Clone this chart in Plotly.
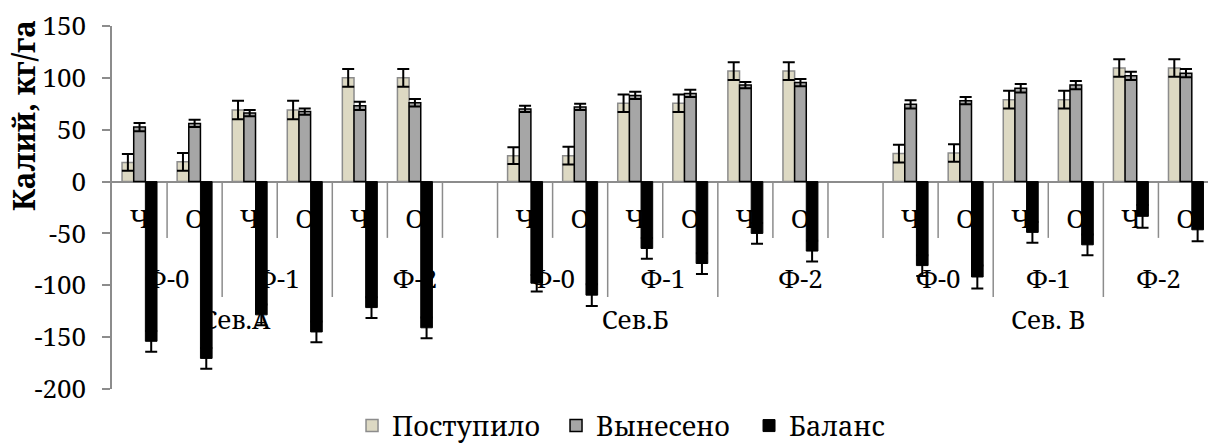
import plotly.graph_objects as go

# Category levels
sites = ["Сев.А", "Сев.Б", "Сев. В"]
fert = ["Ф-0", "Ф-1", "Ф-2"]
variants = ["Ч", "О"]

# Series values (kg/ha) in order: site -> fertiliser -> variant
postupilo = [18.5, 19, 69, 69, 100, 100,
             25, 25, 75.5, 75.5, 106.5, 106.5,
             27, 27.5, 79, 79, 109.5, 109.5]
postupilo_err = [8, 8.5, 9, 9, 8.5, 8.5,
                 8, 8.5, 8.5, 8.5, 8.5, 8.5,
                 8.5, 8.5, 8.5, 8.5, 8.5, 8.5]
vyneseno = [52.5, 56, 66, 67.5, 73, 76,
            70, 72, 83, 85, 93, 95.5,
            74.5, 78, 90, 93, 102, 104.5]
vyneseno_err = [4, 3.5, 3, 3, 4, 3.5,
                3, 3, 3.5, 3.5, 3, 3.5,
                4, 3.5, 4, 4, 4, 4]
balans = [-154, -170.5, -128.5, -145, -121.5, -141,
          -98, -109.5, -64.5, -79, -50, -67,
          -81, -92, -49, -61, -33.5, -46.5]
balans_err = [10, 10, 10, 10, 10, 10,
              8, 10.5, 10, 10, 10, 10,
              10, 11, 10, 10, 11, 11]

# Y axis ticks (hyphen-minus as in the printed labels)
y_ticks = [-200, -150, -100, -50, 0, 50, 100, 150]
y_tick_text = ["-200", "-150", "-100", "-50", "0", "50", "100", "150"]

FONT = "Noto Serif, DejaVu Serif"
SEP = "#8c8c8c"
FS = 26

# Each site occupies 7 slots: six bar groups and one empty slot between sites
SLOTS = 7
xpos, var_lab = [], []
for s in range(len(sites)):
    for f in range(len(fert)):
        for v in range(len(variants)):
            xpos.append(s * SLOTS + f * 2 + v)
            var_lab.append(variants[v])

fig = go.Figure()
fig.add_bar(x=xpos, y=postupilo, name="Поступило", legendwidth=159,
            marker=dict(color="#DDD9C3", line=dict(color="#8c8c8c", width=1.5)),
            error_y=dict(type="data", array=postupilo_err, color="black", thickness=2, width=6))
fig.add_bar(x=xpos, y=vyneseno, name="Вынесено", legendwidth=148,
            marker=dict(color="#A6A6A6", line=dict(color="black", width=1.5)),
            error_y=dict(type="data", array=vyneseno_err, color="black", thickness=2, width=6))
fig.add_bar(x=xpos, y=balans, name="Баланс",
            marker=dict(color="black", line=dict(color="black", width=1)),
            error_y=dict(type="data", array=balans_err, color="black", thickness=2, width=6))

# Multi-level category axis drawn below the zero line
Y_L1 = -54.3     # bottom of short separators
Y_L2 = -111.3    # bottom of long separators
shapes = []
n_slots = SLOTS * len(sites) - 1
long_bounds = set()
for s in range(len(sites)):
    base = s * SLOTS
    long_bounds.update([base + 1.5, base + 3.5])
for b in [i + 0.5 for i in range(n_slots)]:
    shapes.append(dict(type="line", xref="x", yref="y", x0=b, x1=b, y0=0,
                       y1=Y_L2 if b in long_bounds else Y_L1,
                       line=dict(color=SEP, width=1.5), layer="below"))


def label(xc, yc, text, half=0.5):
    # invisible box whose label sits beneath the bars
    return dict(type="rect", xref="x", yref="y", x0=xc - half, x1=xc + half,
                y0=yc - 5, y1=yc + 5, line=dict(width=0), fillcolor="rgba(0,0,0,0)",
                layer="below",
                label=dict(text=text, textposition="middle center",
                           font=dict(family=FONT, size=FS, color="black")))


for x, t in zip(xpos, var_lab):
    shapes.append(label(x, -37, t))
for s in range(len(sites)):
    base = s * SLOTS
    for f in range(len(fert)):
        span = 3 if (f == 2 and s < len(sites) - 1) else 2
        shapes.append(label(base + f * 2 + (span - 1) / 2, -94.5, fert[f]))
site_centres = [1.75, 9.0, 16.5]
for xc, t in zip(site_centres, sites):
    shapes.append(label(xc, -134.5, t))

fig.update_layout(
    width=1208, height=448,
    margin=dict(l=112, r=0, t=26, b=59, autoexpand=False),
    paper_bgcolor="white", plot_bgcolor="white",
    barmode="group", bargap=0.365, bargroupgap=0,
    font=dict(family=FONT, size=FS, color="black"),
    shapes=shapes,
    showlegend=True,
    legend=dict(orientation="h", x=0.219, xanchor="left", y=-0.102, yanchor="middle",
                font=dict(family=FONT, size=FS + 1, color="black"), traceorder="normal"),
    xaxis=dict(range=[-0.5, 19.4], showticklabels=False, showgrid=False,
               zeroline=False, showline=False, ticks=""),
    yaxis=dict(range=[-200, 150], tickvals=y_ticks, ticktext=y_tick_text, showgrid=False,
               showline=True, linecolor=SEP, linewidth=1.5,
               ticks="outside", ticklen=8, tickcolor=SEP, tickwidth=1.5,
               tickfont=dict(family=FONT, size=FS, color="black"),
               ticklabelstandoff=11,
               zeroline=True, zerolinecolor=SEP, zerolinewidth=2),
    annotations=[dict(text="<b>Калий, кг/га</b>", textangle=-90, xref="paper", yref="paper",
                      x=-0.0812, y=0.752, xanchor="center", yanchor="middle", showarrow=False,
                      font=dict(family=FONT, size=30, color="black"))],
)

fig.write_html("out.html")
